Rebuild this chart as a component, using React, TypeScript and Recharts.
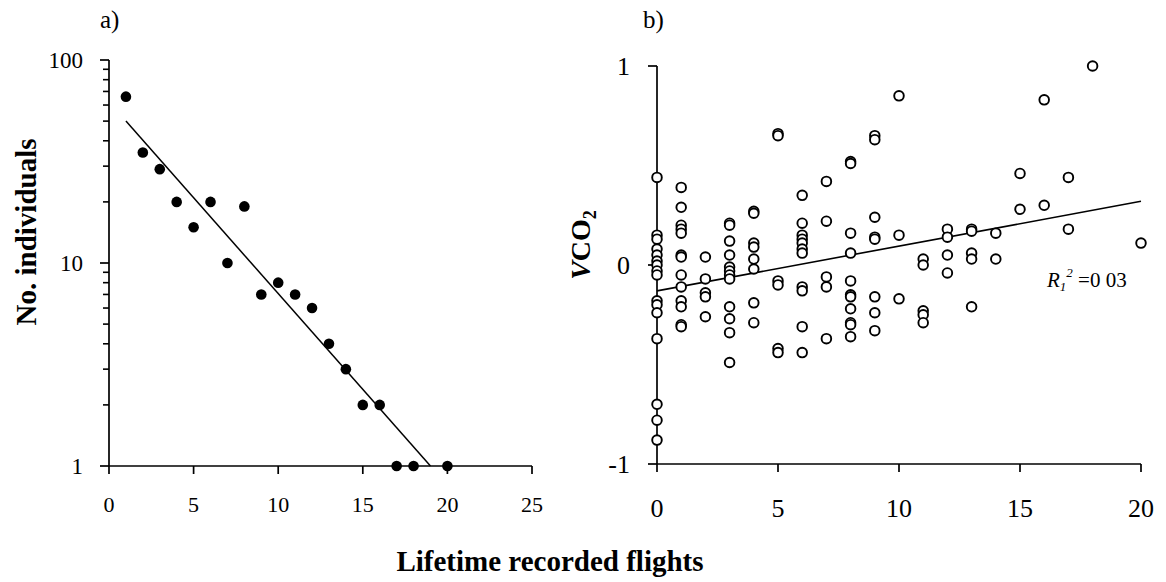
import { ScatterChart, Scatter, XAxis, YAxis } from "recharts";

const serif = "'Liberation Serif', 'Times New Roman', serif";

// panel a: number of individuals by lifetime flights (log scale)
const flightsA = [1, 2, 3, 4, 5, 6, 7, 8, 9, 10, 11, 12, 13, 14, 15, 16, 17, 18, 20];
const individuals = [66, 35, 29, 20, 15, 20, 10, 19, 7, 8, 7, 6, 4, 3, 2, 2, 1, 1, 1];
const fitFlightsA = [1, 19];
const fitIndividuals = [50, 1];

// panel b: VCO2 residuals by lifetime flights
const flightsB = [0, 1, 2, 3, 4, 5, 6, 7, 8, 9, 10, 11, 12, 13, 14, 15, 16, 17, 18, 20];
const vco2 = [
  [0.44, 0.15, 0.13, 0.08, 0.05, 0.02, 0, -0.03, -0.05, -0.18, -0.2, -0.24, -0.37, -0.7, -0.78, -0.88],
  [0.39, 0.29, 0.2, 0.18, 0.16, 0.05, 0.04, -0.05, -0.11, -0.18, -0.21, -0.3, -0.31],
  [0.04, -0.07, -0.14, -0.16, -0.26],
  [0.21, 0.2, 0.12, 0.05, -0.01, -0.03, -0.05, -0.07, -0.21, -0.27, -0.34, -0.49],
  [0.27, 0.26, 0.11, 0.09, 0.03, -0.02, -0.19, -0.29],
  [0.66, 0.65, -0.08, -0.1, -0.42, -0.44],
  [0.35, 0.21, 0.15, 0.13, 0.11, 0.08, 0.06, -0.11, -0.13, -0.31, -0.44],
  [0.42, 0.22, -0.06, -0.11, -0.37],
  [0.52, 0.51, 0.16, 0.06, -0.08, -0.15, -0.16, -0.22, -0.29, -0.3, -0.36],
  [0.65, 0.63, 0.24, 0.14, 0.13, -0.16, -0.24, -0.33],
  [0.85, 0.15, -0.17],
  [0.03, 0.0, -0.23, -0.25, -0.29],
  [0.18, 0.14, 0.05, -0.04],
  [0.18, 0.17, 0.06, 0.03, -0.21],
  [0.16, 0.03],
  [0.46, 0.28],
  [0.83, 0.3],
  [0.44, 0.18],
  [1.0],
  [0.11],
];
const fitFlightsB = [0, 20];
const fitVco2 = [-0.13, 0.32];

const ticksAX = [0, 5, 10, 15, 20, 25];
const ticksALog = [1, 10, 100];
const minorLog = [2, 3, 4, 5, 6, 7, 8, 9, 20, 30, 40, 50, 60, 70, 80, 90];
const ticksBX = [0, 5, 10, 15, 20];
const ticksBY = [-1, 0, 1];

const dataA = flightsA.map((x, i) => ({ x, y: individuals[i] }));
const fitA = fitFlightsA.map((x, i) => ({ x, y: fitIndividuals[i] }));
const minorA = minorLog.map((y) => ({ x: 0, y }));
const dataB = flightsB.flatMap((x, i) => vco2[i].map((y) => ({ x, y })));
const fitB = fitFlightsB.map((x, i) => ({ x, y: fitVco2[i] }));

const axisStroke = { stroke: "#000", strokeWidth: 1.7 };

// minor log ticks: a short stroke just left of the y axis
const MinorTick = ({ cx, cy }: any) => (
  <line x1={cx - 6} x2={cx} y1={cy} y2={cy} stroke="#000" strokeWidth={1.6} />
);
const FilledDot = ({ cx, cy }: any) => <circle cx={cx} cy={cy} r={5.3} fill="#000" />;
const OpenDot = ({ cx, cy }: any) => (
  <circle cx={cx} cy={cy} r={4.8} fill="#fff" stroke="#000" strokeWidth={1.9} />
);
const NoDot = () => <g />;

export default function App() {
  return (
    <div style={{ position: "absolute", left: 0, top: 0, width: 1166, height: 582, background: "#fff" }}>
      <div style={{ position: "absolute", left: 0, top: 0 }}>
        <ScatterChart width={560} height={530} margin={{ top: 60, right: 28, bottom: 14, left: 0 }}>
          <XAxis
            type="number"
            dataKey="x"
            domain={[0, 25]}
            ticks={ticksAX}
            interval={0}
            axisLine={axisStroke}
            tickLine={axisStroke}
            tickSize={8}
            tickMargin={22}
            height={50}
            tick={{ fill: "#000", fontSize: 22, fontFamily: serif }}
          />
          <YAxis
            type="number"
            dataKey="y"
            scale="log"
            domain={[1, 100]}
            ticks={ticksALog}
            interval={0}
            width={109}
            axisLine={axisStroke}
            tickLine={axisStroke}
            tickSize={9}
            tickMargin={17}
            tick={{ fill: "#000", fontSize: 23, fontFamily: serif }}
          />
          <Scatter data={minorA} shape={<MinorTick />} isAnimationActive={false} />
          <Scatter data={dataA} shape={<FilledDot />} isAnimationActive={false} />
          <Scatter
            data={fitA}
            shape={<NoDot />}
            line={{ stroke: "#000", strokeWidth: 1.5 }}
            isAnimationActive={false}
          />
        </ScatterChart>
      </div>

      <div style={{ position: "absolute", left: 560, top: 0 }}>
        <ScatterChart width={606} height={530} margin={{ top: 66, right: 25, bottom: 10, left: 0 }}>
          <XAxis
            type="number"
            dataKey="x"
            domain={[0, 20]}
            ticks={ticksBX}
            interval={0}
            axisLine={axisStroke}
            tickLine={axisStroke}
            tickSize={8}
            tickMargin={27}
            height={56}
            tick={{ fill: "#000", fontSize: 26, fontFamily: serif }}
          />
          <YAxis
            type="number"
            dataKey="y"
            domain={[-1, 1]}
            ticks={ticksBY}
            interval={0}
            width={97}
            axisLine={axisStroke}
            tickLine={axisStroke}
            tickSize={9}
            tickMargin={18}
            tick={{ fill: "#000", fontSize: 26, fontFamily: serif }}
          />
          <Scatter
            data={fitB}
            shape={<NoDot />}
            line={{ stroke: "#000", strokeWidth: 1.6 }}
            isAnimationActive={false}
          />
          <Scatter data={dataB} shape={<OpenDot />} isAnimationActive={false} />
        </ScatterChart>
      </div>

      <svg
        width={1166}
        height={582}
        style={{ position: "absolute", left: 0, top: 0, pointerEvents: "none" }}
        fontFamily={serif}
        fill="#000"
      >
        <text x={100} y={28} fontSize={25}>a)</text>
        <text x={643} y={28} fontSize={25}>b)</text>
        <text transform="translate(36,232) rotate(-90)" textAnchor="middle" fontSize={29} fontWeight="bold">
          No. individuals
        </text>
        <text transform="translate(590,245) rotate(-90)" textAnchor="middle" fontSize={28} fontWeight="bold">
          <tspan fontStyle="italic">V</tspan>CO<tspan fontSize={18} dy={6}>2</tspan>
        </text>
        <text x={1047} y={287} fontSize={21}>
          <tspan fontStyle="italic">R</tspan>
          <tspan fontStyle="italic" fontSize={13} dy={4}>1</tspan>
          <tspan fontStyle="italic" fontSize={13} dy={-14}>2</tspan>
          <tspan dy={10}> =0 03</tspan>
        </text>
        <text x={550} y={571} textAnchor="middle" fontSize={29} fontWeight="bold">
          Lifetime recorded flights
        </text>
      </svg>
    </div>
  );
}
